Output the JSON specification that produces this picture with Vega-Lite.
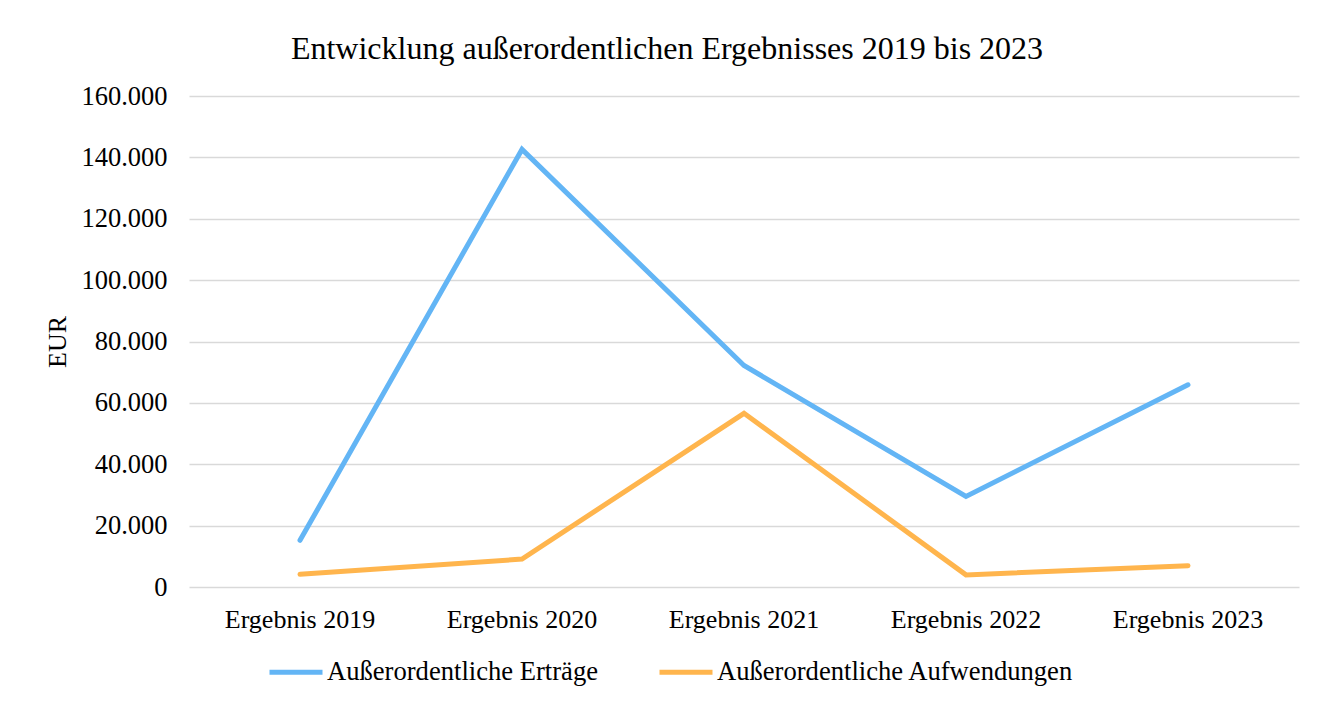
{
  "$schema": "https://vega.github.io/schema/vega-lite/v6.json",
  "autosize": {"type": "none"},
  "width": 1110,
  "height": 491,
  "padding": {"left": 189, "top": 96, "right": 37, "bottom": 117},
  "background": "white",
  "title": {
    "text": "Entwicklung außerordentlichen Ergebnisses 2019 bis 2023",
    "anchor": "middle",
    "frame": "group",
    "dx": -77,
    "dy": 48,
    "baseline": "alphabetic",
    "offset": 40,
    "font": "Liberation Serif",
    "fontSize": 32,
    "fontWeight": "normal",
    "color": "#000000"
  },
  "config": {
    "view": {"stroke": null},
    "font": "Liberation Serif"
  },
  "data": {
    "values": [
      {"jahr": "Ergebnis 2019", "reihe": "Außerordentliche Erträge", "wert": 15200},
      {"jahr": "Ergebnis 2020", "reihe": "Außerordentliche Erträge", "wert": 142600},
      {"jahr": "Ergebnis 2021", "reihe": "Außerordentliche Erträge", "wert": 72200},
      {"jahr": "Ergebnis 2022", "reihe": "Außerordentliche Erträge", "wert": 29500},
      {"jahr": "Ergebnis 2023", "reihe": "Außerordentliche Erträge", "wert": 65900},
      {"jahr": "Ergebnis 2019", "reihe": "Außerordentliche Aufwendungen", "wert": 4150},
      {"jahr": "Ergebnis 2020", "reihe": "Außerordentliche Aufwendungen", "wert": 9100},
      {"jahr": "Ergebnis 2021", "reihe": "Außerordentliche Aufwendungen", "wert": 56600},
      {"jahr": "Ergebnis 2022", "reihe": "Außerordentliche Aufwendungen", "wert": 3950},
      {"jahr": "Ergebnis 2023", "reihe": "Außerordentliche Aufwendungen", "wert": 6950}
    ]
  },
  "mark": {"type": "line", "strokeWidth": 5, "strokeCap": "round", "strokeJoin": "miter"},
  "encoding": {
    "x": {
      "field": "jahr",
      "type": "nominal",
      "sort": null,
      "scale": {"type": "band", "paddingInner": 0, "paddingOuter": 0},
      "axis": {
        "title": null,
        "labelAngle": 0,
        "ticks": false,
        "domain": false,
        "grid": false,
        "labelBaseline": "alphabetic",
        "labelPadding": 40,
        "labelFont": "Liberation Serif",
        "labelFontSize": 26,
        "labelColor": "#000000"
      }
    },
    "y": {
      "field": "wert",
      "type": "quantitative",
      "scale": {"domain": [0, 160000], "nice": false},
      "axis": {
        "title": "EUR",
        "values": [0, 20000, 40000, 60000, 80000, 100000, 120000, 140000, 160000],
        "labelExpr": "replace(format(datum.value, ','), /,/g, '.')",
        "ticks": false,
        "domain": false,
        "grid": true,
        "gridColor": "#d9d9d9",
        "gridWidth": 1.5,
        "labelPadding": 22,
        "labelFont": "Liberation Serif",
        "labelFontSize": 26.5,
        "labelColor": "#000000",
        "titleFont": "Liberation Serif",
        "titleFontSize": 26,
        "titleFontWeight": "normal",
        "titleColor": "#000000",
        "titleAngle": -90,
        "titleAlign": "center",
        "titleBaseline": "middle",
        "titleX": -132,
        "titleY": 245.5
      }
    },
    "color": {
      "field": "reihe",
      "type": "nominal",
      "sort": ["Außerordentliche Erträge", "Außerordentliche Aufwendungen"],
      "scale": {
        "domain": ["Außerordentliche Erträge", "Außerordentliche Aufwendungen"],
        "range": ["#63b5f5", "#ffb54d"]
      },
      "legend": {
        "title": null,
        "orient": "none",
        "direction": "horizontal",
        "legendX": 78,
        "legendY": 547,
        "padding": 0,
        "symbolType": "stroke",
        "symbolSize": 2809,
        "symbolStrokeWidth": 5,
        "labelOffset": 2,
        "columnPadding": 51,
        "labelFont": "Liberation Serif",
        "labelFontSize": 26.6,
        "labelColor": "#000000",
        "labelLimit": 600
      }
    }
  }
}
